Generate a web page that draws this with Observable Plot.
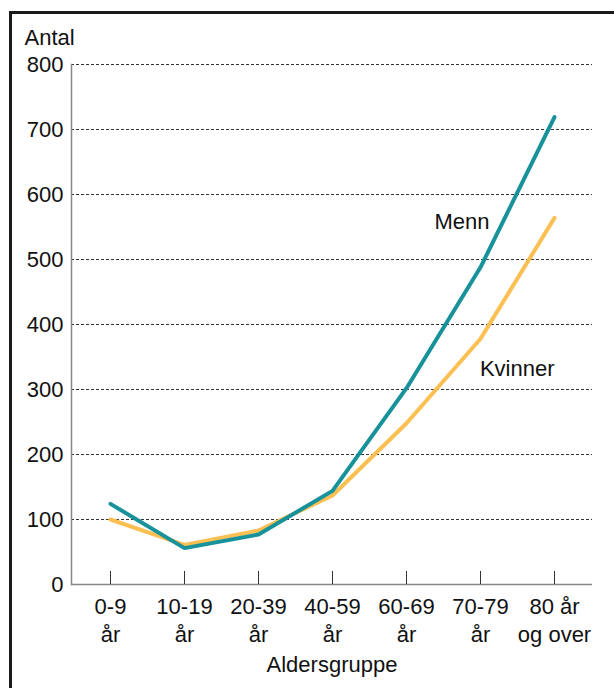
<!DOCTYPE html>
<html>
<head>
<meta charset="utf-8">
<script src="https://cdn.jsdelivr.net/npm/d3@7"></script>
<script src="https://cdn.jsdelivr.net/npm/@observablehq/plot@0.6"></script>
<style>
  html, body { margin: 0; padding: 0; background: #fff; }
  #wrap { position: relative; width: 614px; height: 688px; overflow: hidden; font-family: "Liberation Sans", Arial, sans-serif; }
  #border { position: absolute; left: 9px; top: 11px; width: 620px; height: 700px; border-left: 3px solid #1a1a1a; border-top: 3px solid #1a1a1a; box-sizing: border-box; pointer-events: none; }
  #chart { position: absolute; left: 0; top: 0; }
</style>
</head>
<body>
<div id="wrap"><div id="chart"></div><div id="border"></div></div>
<script>
const categories = ["0-9 år", "10-19 år", "20-39 år", "40-59 år", "60-69 år", "70-79 år", "80 år og over"];
const tickLabels = ["0-9\når", "10-19\når", "20-39\når", "40-59\når", "60-69\når", "70-79\når", "80 år\nog over"];
const menn = [124, 56, 77, 144, 302, 488, 719];
const kvinner = [100, 61, 83, 137, 248, 378, 564];
const yTicks = [0, 100, 200, 300, 400, 500, 600, 700, 800];
const mennLabel = [{name: "Menn", x: "70-79 år", y: 557}];
const kvinnerLabel = [{name: "Kvinner", x: "80 år og over", y: 332}];

const rows = [];
categories.forEach((c, i) => {
  rows.push({series: "Menn", cat: c, value: menn[i]});
  rows.push({series: "Kvinner", cat: c, value: kvinner[i]});
});
const colors = {Menn: "#17929a", Kvinner: "#fcbf52"};
const labelMap = new Map(categories.map((c, i) => [c, tickLabels[i]]));

const chart = Plot.plot({
  width: 614,
  height: 688,
  marginTop: 64,
  marginBottom: 104,
  marginLeft: 71,
  marginRight: 22,
  style: {fontFamily: "'Liberation Sans', Arial, sans-serif", fontSize: "22px", color: "#111", background: "transparent"},
  x: {type: "point", domain: categories, padding: 0.5},
  y: {domain: [0, 800]},
  marks: [
    Plot.gridY(yTicks.filter(v => v > 0), {stroke: "#333", strokeOpacity: 1, strokeDasharray: "3,2", strokeWidth: 1}),
    Plot.ruleY([0], {stroke: "#888", strokeWidth: 1.5}),
    Plot.frame({anchor: "left", stroke: "#888", strokeWidth: 1.5}),
    Plot.axisY({ticks: yTicks, tickSize: 0, tickPadding: 8, fontSize: 22, label: null}),
    Plot.axisX({tickSize: 13, dy: -13, tickFormat: () => "", label: null, stroke: "#333"}),
    Plot.axisX({tickSize: 0, tickPadding: 10, tickFormat: d => labelMap.get(d), lineHeight: 1.25, fontSize: 22,
      label: "Aldersgruppe", labelAnchor: "center", labelOffset: 87}),
    Plot.line(rows.filter(d => d.series === "Kvinner"), {x: "cat", y: "value", stroke: colors.Kvinner, strokeWidth: 4, strokeLinejoin: "miter"}),
    Plot.line(rows.filter(d => d.series === "Menn"), {x: "cat", y: "value", stroke: colors.Menn, strokeWidth: 4, strokeLinejoin: "miter"}),
    Plot.text(mennLabel, {x: "x", y: "y", text: "name", textAnchor: "end", dx: 9, fontSize: 22, fill: "#111"}),
    Plot.text(kvinnerLabel, {x: "x", y: "y", text: "name", textAnchor: "end", dx: 0, fontSize: 22, fill: "#111"}),
    Plot.text(["Antal"], {frameAnchor: "top-left", textAnchor: "start", lineAnchor: "bottom", dx: -47, dy: -20, fontSize: 22, fill: "#111"})
  ]
});
document.getElementById("chart").appendChild(chart);
</script>
</body>
</html>
